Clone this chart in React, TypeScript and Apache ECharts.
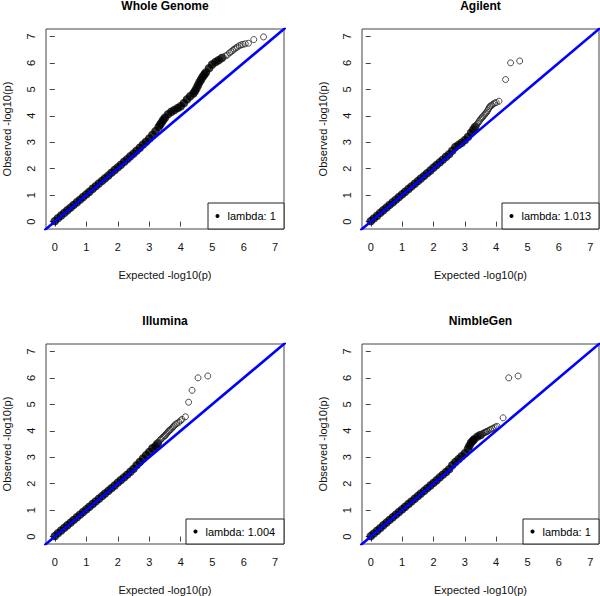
import React, { useEffect, useRef } from "react";
import * as echarts from "echarts";

const panelTitles = ["Whole Genome", "Agilent", "Illumina", "NimbleGen"];
const lambdaLabels = ["lambda: 1", "lambda: 1.013", "lambda: 1.004", "lambda: 1"];
const tickValues = [0, 1, 2, 3, 4, 5, 6, 7];
const axisMin = -0.28;
const axisMax = 7.28;
const xAxisName = "Expected -log10(p)";
const yAxisName = "Observed -log10(p)";
const diagonal = [[-1, -1], [8, 8]];

// Whole Genome
const wholeDense = [
  [0, 0.02], [0.1, 0.13], [0.2, 0.23], [0.3, 0.33], [0.4, 0.43], [0.5, 0.53], [0.6, 0.63], [0.7, 0.73],
  [0.8, 0.83], [0.9, 0.93], [1.0, 1.03], [1.1, 1.13], [1.2, 1.24], [1.3, 1.34], [1.4, 1.44], [1.5, 1.54],
  [1.6, 1.64], [1.7, 1.74], [1.8, 1.85], [1.9, 1.95], [2.0, 2.05], [2.1, 2.15], [2.2, 2.26], [2.3, 2.36],
  [2.4, 2.47], [2.5, 2.57], [2.6, 2.68], [2.7, 2.79], [2.8, 2.91], [2.9, 3.02], [3.0, 3.14], [3.1, 3.28],
  [3.2, 3.42], [3.3, 3.58], [3.35, 3.67], [3.4, 3.76], [3.45, 3.85], [3.5, 3.93], [3.6, 4.06], [3.7, 4.15],
  [3.8, 4.22], [3.9, 4.29], [4.0, 4.36], [4.1, 4.48], [4.2, 4.62], [4.3, 4.74], [4.4, 4.84], [4.45, 4.93],
  [4.5, 5.04], [4.55, 5.16], [4.6, 5.28], [4.65, 5.38], [4.7, 5.48], [4.75, 5.56], [4.8, 5.64], [4.9, 5.8],
  [5.0, 5.94], [5.1, 6.03], [5.2, 6.1], [5.3, 6.18],
];
const wholeTail = [
  [5.35, 6.22], [5.42, 6.26], [5.48, 6.3], [5.55, 6.38], [5.6, 6.42], [5.65, 6.47], [5.7, 6.52],
  [5.75, 6.56], [5.8, 6.6], [5.86, 6.65], [5.92, 6.68], [5.98, 6.7], [6.05, 6.72], [6.15, 6.74],
  [6.32, 6.88], [6.63, 6.98],
];

// Agilent
const agilentDense = [
  [0, 0.02], [0.1, 0.12], [0.2, 0.22], [0.3, 0.33], [0.4, 0.43], [0.5, 0.53], [0.6, 0.63], [0.7, 0.73],
  [0.8, 0.83], [0.9, 0.93], [1.0, 1.03], [1.1, 1.13], [1.2, 1.23], [1.3, 1.33], [1.4, 1.43], [1.5, 1.53],
  [1.6, 1.63], [1.7, 1.73], [1.8, 1.83], [1.9, 1.93], [2.0, 2.04], [2.1, 2.14], [2.2, 2.24], [2.3, 2.34],
  [2.4, 2.45], [2.5, 2.55], [2.6, 2.68], [2.7, 2.82], [2.8, 2.9], [2.9, 2.98], [3.0, 3.08], [3.1, 3.2],
  [3.2, 3.36], [3.27, 3.48], [3.33, 3.58],
];
const agilentTail = [
  [3.3, 3.54], [3.35, 3.62], [3.38, 3.67], [3.42, 3.72], [3.45, 3.78], [3.48, 3.83], [3.51, 3.88],
  [3.54, 3.92], [3.57, 3.96], [3.61, 4.01], [3.64, 4.06], [3.67, 4.1], [3.7, 4.14], [3.73, 4.2],
  [3.76, 4.27], [3.79, 4.33], [3.82, 4.37], [3.86, 4.4], [3.9, 4.44], [3.95, 4.48], [4.0, 4.5],
  [4.09, 4.55], [4.3, 5.37], [4.46, 6.0], [4.75, 6.07],
];

// Illumina
const illuminaDense = [
  [0, 0.02], [0.1, 0.13], [0.2, 0.23], [0.3, 0.33], [0.4, 0.43], [0.5, 0.53], [0.6, 0.63], [0.7, 0.73],
  [0.8, 0.83], [0.9, 0.93], [1.0, 1.03], [1.1, 1.13], [1.2, 1.23], [1.3, 1.33], [1.4, 1.43], [1.5, 1.53],
  [1.6, 1.63], [1.7, 1.73], [1.8, 1.83], [1.9, 1.93], [2.0, 2.04], [2.1, 2.14], [2.2, 2.24], [2.3, 2.34],
  [2.4, 2.45], [2.5, 2.56], [2.6, 2.7], [2.7, 2.82], [2.8, 2.95], [2.9, 3.08], [3.0, 3.2], [3.1, 3.34],
  [3.2, 3.42], [3.27, 3.52],
];
const illuminaTail = [
  [3.3, 3.58], [3.34, 3.64], [3.37, 3.68], [3.4, 3.72], [3.44, 3.76], [3.48, 3.8], [3.51, 3.83],
  [3.54, 3.88], [3.57, 3.92], [3.6, 3.96], [3.63, 4.0], [3.66, 4.03], [3.69, 4.06], [3.73, 4.11],
  [3.76, 4.15], [3.79, 4.19], [3.83, 4.24], [3.88, 4.28], [3.94, 4.32], [3.99, 4.38], [4.04, 4.43],
  [4.15, 4.53], [4.25, 5.08], [4.36, 5.53], [4.55, 6.0], [4.86, 6.07],
];

// NimbleGen
const nimbleDense = [
  [0, 0.02], [0.1, 0.12], [0.2, 0.22], [0.3, 0.32], [0.4, 0.43], [0.5, 0.53], [0.6, 0.63], [0.7, 0.73],
  [0.8, 0.83], [0.9, 0.93], [1.0, 1.03], [1.1, 1.13], [1.2, 1.23], [1.3, 1.33], [1.4, 1.43], [1.5, 1.53],
  [1.6, 1.63], [1.7, 1.73], [1.8, 1.83], [1.9, 1.93], [2.0, 2.03], [2.1, 2.13], [2.2, 2.24], [2.3, 2.34],
  [2.4, 2.44], [2.5, 2.55], [2.6, 2.7], [2.7, 2.82], [2.8, 2.93], [2.9, 3.04], [3.0, 3.15], [3.1, 3.32],
  [3.15, 3.44], [3.2, 3.55], [3.25, 3.62], [3.3, 3.68], [3.4, 3.78], [3.5, 3.84],
];
const nimbleTail = [
  [3.55, 3.87], [3.58, 3.9], [3.61, 3.92], [3.64, 3.94], [3.67, 3.95], [3.7, 3.97], [3.72, 3.98],
  [3.77, 4.02], [3.82, 4.05], [3.88, 4.08], [3.93, 4.11], [3.98, 4.14], [4.03, 4.17], [4.22, 4.49],
  [4.4, 6.0], [4.7, 6.07],
];

const denseSets = [wholeDense, agilentDense, illuminaDense, nimbleDense];
const tailSets = [wholeTail, agilentTail, illuminaTail, nimbleTail];

const FONT = "'Liberation Sans', Arial, Helvetica, sans-serif";

const grids = [
  { left: 46, top: 29, width: 238, height: 200 },
  { left: 362, top: 29, width: 237, height: 200 },
  { left: 46, top: 344, width: 238, height: 200 },
  { left: 362, top: 344, width: 237, height: 200 },
];

const legendBoxes = [
  { x: 208, y: 203, w: 76 },
  { x: 502, y: 203, w: 97 },
  { x: 186, y: 519, w: 98 },
  { x: 523, y: 519, w: 76 },
];

export default function App() {
  const ref = useRef<HTMLDivElement>(null);

  useEffect(() => {
    if (!ref.current) return;
    const chart = echarts.init(ref.current, undefined, { renderer: "svg" });

    const xAxes = grids.map((_, i) => ({
      type: "value",
      gridIndex: i,
      min: axisMin,
      max: axisMax,
      name: xAxisName,
      nameLocation: "middle",
      nameGap: 40,
      nameTextStyle: { fontSize: 11, color: "#111", fontFamily: FONT },
      axisLine: { show: false },
      splitLine: { show: false },
      axisTick: { show: true, inside: false, length: 5, customValues: tickValues, lineStyle: { color: "#444" } },
      axisLabel: { customValues: tickValues, margin: 12, fontSize: 11, color: "#111", fontFamily: FONT },
    }));
    const yAxes = grids.map((_, i) => ({
      type: "value",
      gridIndex: i,
      min: axisMin,
      max: axisMax,
      name: yAxisName,
      nameLocation: "middle",
      nameGap: 34,
      nameRotate: 90,
      nameTextStyle: { fontSize: 11, color: "#111", fontFamily: FONT },
      axisLine: { show: false },
      splitLine: { show: false },
      axisTick: { show: true, inside: false, length: 5, customValues: tickValues, lineStyle: { color: "#444" } },
      axisLabel: { customValues: tickValues, margin: 10, rotate: 90, fontSize: 11, color: "#111", fontFamily: FONT },
    }));

    const series: any[] = [];
    grids.forEach((_, i) => {
      series.push({
        type: "scatter",
        xAxisIndex: i,
        yAxisIndex: i,
        data: denseSets[i],
        symbol: "circle",
        symbolSize: 8.5,
        itemStyle: { color: "#000" },
        z: 2,
      });
      series.push({
        type: "scatter",
        xAxisIndex: i,
        yAxisIndex: i,
        data: tailSets[i],
        symbol: "circle",
        symbolSize: 6,
        itemStyle: { color: "rgba(255,255,255,0)", borderColor: "#222", borderWidth: 1 },
        z: 2,
      });
      series.push({
        type: "line",
        xAxisIndex: i,
        yAxisIndex: i,
        data: diagonal,
        clip: true,
        symbol: "none",
        lineStyle: { color: "#0000ff", width: 2.6 },
        z: 3,
      });
    });

    const graphics: any[] = [];
    grids.forEach((g, i) => {
      graphics.push({
        type: "text",
        x: g.left + g.width / 2,
        y: i < 2 ? 6 : 321,
        style: {
          text: panelTitles[i],
          fontSize: 12,
          fontWeight: "bold",
          fontFamily: FONT,
          fill: "#000",
          textAlign: "center",
          textVerticalAlign: "middle",
        },
      });
      const lb = legendBoxes[i];
      graphics.push({
        type: "rect",
        shape: { x: lb.x, y: lb.y, width: lb.w, height: g.top + g.height - lb.y },
        style: { fill: "#fff", stroke: "#222", lineWidth: 1 },
        z: 10,
      });
      const cy = lb.y + (g.top + g.height - lb.y) / 2;
      graphics.push({
        type: "circle",
        shape: { cx: lb.x + 9.5, cy, r: 2 },
        style: { fill: "#000" },
        z: 11,
      });
      graphics.push({
        type: "text",
        x: lb.x + 19.5,
        y: cy,
        style: {
          text: lambdaLabels[i],
          fontSize: 11,
          fontFamily: FONT,
          fill: "#000",
          textAlign: "left",
          textVerticalAlign: "middle",
        },
        z: 11,
      });
    });

    chart.setOption({
      animation: false,
      backgroundColor: "#fff",
      grid: grids.map((g) => ({ ...g, show: true, borderColor: "#444", borderWidth: 1, backgroundColor: "transparent" })),
      xAxis: xAxes,
      yAxis: yAxes,
      series,
      graphic: graphics,
    });

    return () => chart.dispose();
  }, []);

  return (
    <div
      ref={ref}
      style={{ position: "fixed", left: 0, top: 0, width: 600, height: 596, background: "#fff" }}
    />
  );
}
